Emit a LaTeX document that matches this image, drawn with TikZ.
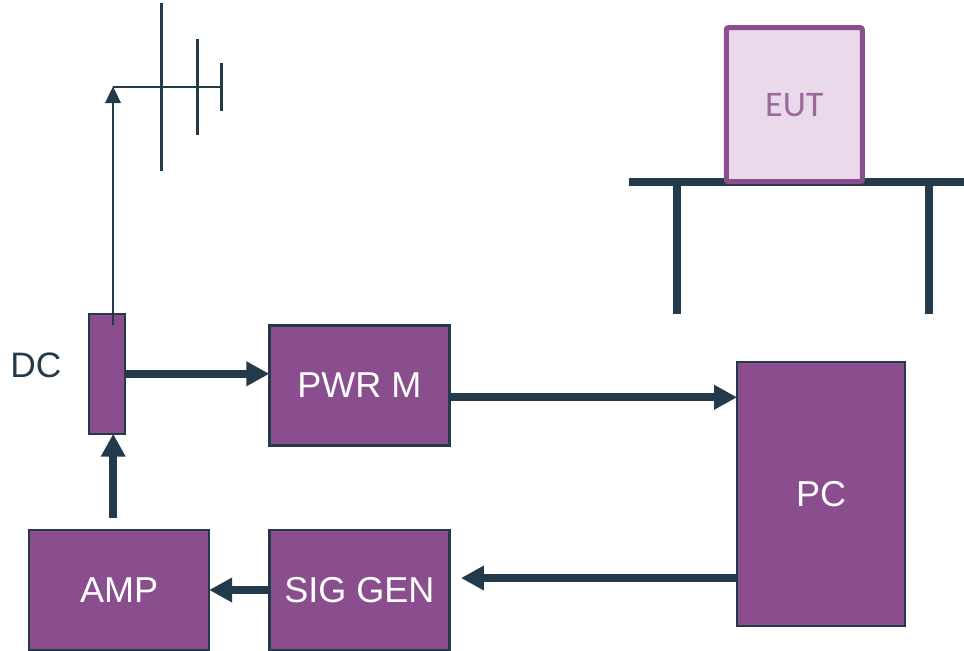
\documentclass[tikz,border=0pt]{standalone}
\usepackage{fontspec}
\setmainfont{Liberation Sans}
\newfontfamily\eutfont{Carlito}
\usetikzlibrary{arrows.meta}
\definecolor{boxpurple}{HTML}{8A4E8E}
\definecolor{darkline}{HTML}{233A4A}
\definecolor{eutfill}{HTML}{EAD9EA}
\begin{document}
\begin{tikzpicture}[x=0.75pt, y=-0.75pt,
  every node/.style = {inner sep=0pt, align=center},
  block/.style = {shape=rectangle, draw=darkline, line width=1.9pt,
    fill=boxpurple, text=white, font=\fontsize{27}{30}\selectfont},
  bigblock/.style = {block, minimum width=135pt, minimum height=90pt},
  thickarrow/.style = {draw=darkline, line width=6pt, shorten >=-1pt, -{Triangle[length=17.25pt, width=17.5pt]}},
  thinarrow/.style = {draw=darkline, line width=2pt, shorten >=-0.5pt, -{Triangle[length=12.5pt, width=11.5pt]}},
  antenna/.style = {draw=darkline, line width=2pt},
  tableline/.style = {draw=darkline, line width=6pt}]
  \useasboundingbox (0,0) rectangle (964,650);

  % table
  \coordinate (topleft) at (629,181.5);
  \coordinate (topright) at (964,181.5);
  \coordinate (legleft) at (677.3,313.5);
  \coordinate (legright) at (929.3,313.5);
  \draw[tableline] (topleft) -- (topright);
  \draw[tableline] (legleft) -- (legleft |- topleft);
  \draw[tableline] (legright) -- (legright |- topleft);

  \node[shape=rectangle, rounded corners=1.5pt, draw=boxpurple, line width=3.75pt, fill=eutfill,
    minimum width=102pt, minimum height=115.5pt] (eut) at (794.3,104.7)
    {\eutfont\fontsize{27}{30}\selectfont\textcolor{boxpurple!85}{EUT}};

  % blocks
  \node[block, minimum width=27pt, minimum height=90pt] (dc) at (107.2,373.8) {};
  \node[bigblock] (pwr) at (359.3,385.3) {PWR M};
  \node[block, minimum width=126pt, minimum height=198pt] (pc) at (821,494) {PC};
  \node[bigblock] (sig) at (359.3,590) {SIG GEN};
  \node[bigblock] (amp) at (119.2,590) {AMP};
  \node[text=darkline, font=\fontsize{26.5}{30}\selectfont] (dclabel) at (36,365) {DC};

  % antenna
  \coordinate (dcout) at (113,325);
  \coordinate (feed) at (113,87);
  \coordinate (boomend) at (221.3,87);
  \draw[thinarrow] (dcout) -- (feed);
  \draw[antenna] (feed) -- (boomend);
  \coordinate (rodatop) at (161.3,3);
  \coordinate (rodabot) at (161.3,171);
  \coordinate (rodbtop) at (197.3,39);
  \coordinate (rodbbot) at (197.3,135);
  \coordinate (rodctop) at (221.3,63);
  \coordinate (rodcbot) at (221.3,111);
  \draw[antenna] (rodatop) -- (rodabot);
  \draw[antenna] (rodbtop) -- (rodbbot);
  \draw[antenna] (rodctop) -- (rodcbot);

  % connectors
  \coordinate (ampout) at (113.2,517.7);
  \coordinate (pcin) at (pc.west |- 0,397.3);
  \coordinate (pcout) at (pc.west |- 0,578);
  \coordinate (sigin) at (462.3,578);
  \draw[thickarrow] (ampout) -- (ampout |- dc.south);
  \draw[thickarrow] (dc.east) -- (pwr.west |- dc.east);
  \draw[thickarrow] (pwr.east |- pcin) -- (pcin);
  \draw[thickarrow] (pcout) -- (sigin);
  \draw[thickarrow] (sig.west) -- (amp.east);
\end{tikzpicture}
\end{document}
